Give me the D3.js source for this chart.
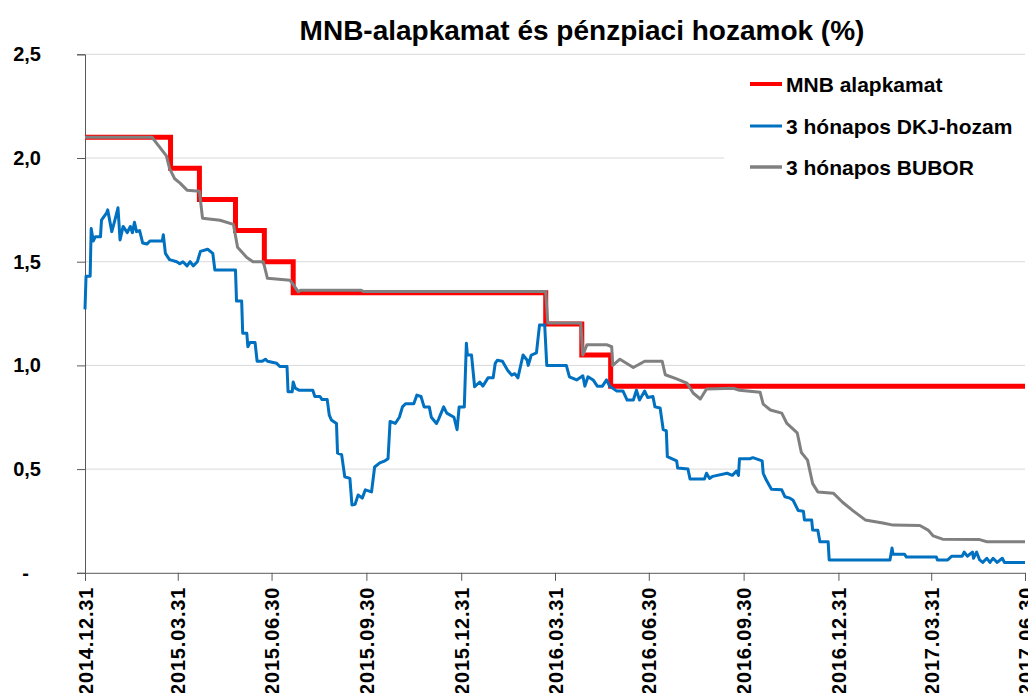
<!DOCTYPE html>
<html>
<head>
<meta charset="utf-8">
<script src="https://cdn.jsdelivr.net/npm/d3@7"></script>
<style>
  body { margin: 0; background: #fff; }
  svg { font-family: "Liberation Sans", Arial, sans-serif; font-weight: bold; }
</style>
</head>
<body>
<svg id="chart" width="1028" height="693"></svg>
<script>
// MNB alapkamat (step, effective from date)
var mnbRate = [
  ["2014-12-31", 2.10], ["2015-03-24", 1.95], ["2015-04-21", 1.80], ["2015-05-26", 1.65],
  ["2015-06-23", 1.50], ["2015-07-21", 1.35], ["2016-03-22", 1.20], ["2016-04-26", 1.05],
  ["2016-05-24", 0.90], ["2017-06-30", 0.90]
];

// 3 hónapos DKJ-hozam
var dkjYield = [
  ["2014-12-31", 1.27], ["2015-01-01", 1.43], ["2015-01-05", 1.43], ["2015-01-06", 1.66],
  ["2015-01-08", 1.60], ["2015-01-10", 1.62], ["2015-01-15", 1.62], ["2015-01-16", 1.70],
  ["2015-01-21", 1.735], ["2015-01-22", 1.75], ["2015-01-26", 1.645], ["2015-01-29", 1.70],
  ["2015-02-01", 1.76], ["2015-02-03", 1.605], ["2015-02-06", 1.67], ["2015-02-10", 1.64],
  ["2015-02-13", 1.67], ["2015-02-15", 1.64], ["2015-02-17", 1.69], ["2015-02-19", 1.645],
  ["2015-02-22", 1.65], ["2015-02-25", 1.59], ["2015-03-01", 1.585], ["2015-03-04", 1.60],
  ["2015-03-16", 1.60], ["2015-03-17", 1.63], ["2015-03-19", 1.54], ["2015-03-23", 1.51],
  ["2015-03-30", 1.50], ["2015-04-02", 1.49], ["2015-04-05", 1.50], ["2015-04-09", 1.48],
  ["2015-04-12", 1.50], ["2015-04-15", 1.48], ["2015-04-19", 1.50], ["2015-04-22", 1.55],
  ["2015-04-29", 1.56], ["2015-05-04", 1.54], ["2015-05-06", 1.46], ["2015-05-26", 1.46],
  ["2015-05-27", 1.31], ["2015-06-01", 1.31], ["2015-06-02", 1.155], ["2015-06-06", 1.155],
  ["2015-06-07", 1.09], ["2015-06-09", 1.11], ["2015-06-14", 1.11], ["2015-06-16", 1.02],
  ["2015-06-21", 1.02], ["2015-06-24", 1.03], ["2015-06-26", 1.02], ["2015-07-05", 1.01],
  ["2015-07-08", 0.995], ["2015-07-15", 0.995], ["2015-07-16", 0.873], ["2015-07-20", 0.873],
  ["2015-07-21", 0.92], ["2015-07-23", 0.89], ["2015-07-27", 0.88], ["2015-08-09", 0.88],
  ["2015-08-11", 0.85], ["2015-08-16", 0.85], ["2015-08-18", 0.835], ["2015-08-23", 0.835],
  ["2015-08-25", 0.76], ["2015-08-27", 0.737], ["2015-09-01", 0.72], ["2015-09-02", 0.577],
  ["2015-09-06", 0.57], ["2015-09-09", 0.463], ["2015-09-14", 0.455], ["2015-09-16", 0.327],
  ["2015-09-19", 0.33], ["2015-09-22", 0.375], ["2015-09-26", 0.36], ["2015-09-29", 0.40],
  ["2015-10-05", 0.39], ["2015-10-08", 0.51], ["2015-10-13", 0.53], ["2015-10-18", 0.54],
  ["2015-10-21", 0.55], ["2015-10-23", 0.73], ["2015-10-28", 0.72], ["2015-11-01", 0.75],
  ["2015-11-04", 0.80], ["2015-11-07", 0.815], ["2015-11-15", 0.815], ["2015-11-18", 0.857],
  ["2015-11-22", 0.85], ["2015-11-25", 0.80], ["2015-11-30", 0.80], ["2015-12-02", 0.75],
  ["2015-12-07", 0.72], ["2015-12-09", 0.74], ["2015-12-14", 0.80], ["2015-12-17", 0.77],
  ["2015-12-24", 0.75], ["2015-12-27", 0.69], ["2015-12-29", 0.80], ["2016-01-03", 0.80],
  ["2016-01-05", 1.107], ["2016-01-06", 1.05], ["2016-01-10", 1.05], ["2016-01-13", 0.897],
  ["2016-01-18", 0.92], ["2016-01-21", 0.90], ["2016-01-26", 0.94], ["2016-01-31", 0.94],
  ["2016-02-02", 1.01], ["2016-02-04", 1.025], ["2016-02-09", 1.02], ["2016-02-14", 0.977],
  ["2016-02-18", 0.953], ["2016-02-21", 0.96], ["2016-02-24", 0.94], ["2016-02-29", 1.05],
  ["2016-03-04", 1.025], ["2016-03-05", 1.00], ["2016-03-08", 1.05], ["2016-03-13", 1.06],
  ["2016-03-16", 1.195], ["2016-03-21", 1.195], ["2016-03-23", 1.00], ["2016-04-11", 1.00],
  ["2016-04-14", 0.945], ["2016-04-21", 0.93], ["2016-04-27", 0.95], ["2016-04-29", 0.90],
  ["2016-05-02", 0.945], ["2016-05-07", 0.93], ["2016-05-11", 0.90], ["2016-05-16", 0.90],
  ["2016-05-20", 0.93], ["2016-05-23", 0.90], ["2016-05-30", 0.876], ["2016-06-05", 0.876],
  ["2016-06-09", 0.833], ["2016-06-15", 0.833], ["2016-06-18", 0.88], ["2016-06-21", 0.833],
  ["2016-06-26", 0.876], ["2016-06-29", 0.845], ["2016-07-04", 0.85], ["2016-07-06", 0.80],
  ["2016-07-11", 0.795], ["2016-07-14", 0.69], ["2016-07-17", 0.685], ["2016-07-18", 0.56],
  ["2016-07-27", 0.54], ["2016-07-28", 0.505], ["2016-08-07", 0.50], ["2016-08-09", 0.452],
  ["2016-08-23", 0.452], ["2016-08-25", 0.48], ["2016-08-28", 0.455], ["2016-08-31", 0.465],
  ["2016-09-14", 0.48], ["2016-09-19", 0.47], ["2016-09-23", 0.49], ["2016-09-25", 0.47],
  ["2016-09-26", 0.55], ["2016-10-06", 0.55], ["2016-10-09", 0.555], ["2016-10-18", 0.54],
  ["2016-10-19", 0.48], ["2016-10-22", 0.447], ["2016-10-27", 0.403], ["2016-11-06", 0.40],
  ["2016-11-09", 0.367], ["2016-11-14", 0.36], ["2016-11-17", 0.35], ["2016-11-22", 0.30],
  ["2016-11-27", 0.297], ["2016-11-28", 0.255], ["2016-12-05", 0.255], ["2016-12-06", 0.206],
  ["2016-12-11", 0.205], ["2016-12-13", 0.15], ["2016-12-21", 0.15], ["2016-12-22", 0.062],
  ["2017-02-19", 0.062], ["2017-02-21", 0.12], ["2017-02-22", 0.09], ["2017-03-05", 0.09],
  ["2017-03-07", 0.076], ["2017-04-05", 0.076], ["2017-04-06", 0.062], ["2017-04-16", 0.062],
  ["2017-04-20", 0.08], ["2017-04-30", 0.08], ["2017-05-02", 0.10], ["2017-05-05", 0.08],
  ["2017-05-10", 0.10], ["2017-05-11", 0.07], ["2017-05-14", 0.10], ["2017-05-17", 0.062],
  ["2017-05-20", 0.05], ["2017-05-24", 0.07], ["2017-05-27", 0.05], ["2017-05-30", 0.07],
  ["2017-06-03", 0.05], ["2017-06-08", 0.07], ["2017-06-10", 0.05], ["2017-06-30", 0.05]
];

// 3 hónapos BUBOR
var bubor = [
  ["2014-12-31", 2.10], ["2015-03-06", 2.10], ["2015-03-20", 2.01], ["2015-03-23", 1.95],
  ["2015-03-28", 1.90], ["2015-04-02", 1.88], ["2015-04-09", 1.845], ["2015-04-21", 1.84],
  ["2015-04-24", 1.71], ["2015-05-11", 1.70], ["2015-05-24", 1.68], ["2015-05-28", 1.57],
  ["2015-06-06", 1.52], ["2015-06-12", 1.50], ["2015-06-22", 1.50], ["2015-06-26", 1.42],
  ["2015-07-18", 1.41], ["2015-07-21", 1.39], ["2015-07-26", 1.355], ["2015-07-28", 1.362],
  ["2015-09-25", 1.362], ["2015-09-27", 1.356], ["2016-03-22", 1.356], ["2016-03-24", 1.205],
  ["2016-04-25", 1.205], ["2016-04-27", 1.05], ["2016-05-01", 1.10], ["2016-05-20", 1.10],
  ["2016-05-25", 1.09], ["2016-05-26", 1.00], ["2016-06-02", 1.03], ["2016-06-15", 0.99],
  ["2016-06-26", 1.02], ["2016-07-13", 1.02], ["2016-07-16", 0.955], ["2016-07-27", 0.935],
  ["2016-08-06", 0.915], ["2016-08-12", 0.867], ["2016-08-19", 0.838], ["2016-08-25", 0.886],
  ["2016-09-20", 0.89], ["2016-09-26", 0.88], ["2016-10-16", 0.87], ["2016-10-19", 0.813],
  ["2016-10-26", 0.785], ["2016-11-06", 0.77], ["2016-11-11", 0.72], ["2016-11-21", 0.675],
  ["2016-11-25", 0.58], ["2016-12-01", 0.543], ["2016-12-06", 0.43], ["2016-12-11", 0.39],
  ["2016-12-26", 0.384], ["2017-01-04", 0.34], ["2017-01-14", 0.30], ["2017-01-26", 0.255],
  ["2017-02-12", 0.24], ["2017-02-22", 0.23], ["2017-03-20", 0.228], ["2017-03-28", 0.206],
  ["2017-04-02", 0.178], ["2017-04-11", 0.162], ["2017-05-17", 0.16], ["2017-05-24", 0.15],
  ["2017-06-30", 0.15]
];

var xTickDates = ["2014-12-31", "2015-03-31", "2015-06-30", "2015-09-30", "2015-12-31", "2016-03-31",
                  "2016-06-30", "2016-09-30", "2016-12-31", "2017-03-31", "2017-06-30"];
var yTicks = [0, 0.5, 1.0, 1.5, 2.0, 2.5];

var seriesNames = ["MNB alapkamat", "3 hónapos DKJ-hozam", "3 hónapos BUBOR"];
var seriesColors = ["#ff0000", "#0070c0", "#808080"];

var parse = d3.timeParse("%Y-%m-%d");
var fmtDate = d3.timeFormat("%Y.%m.%d");

var svg = d3.select("#chart");
var plotLeft = 85, plotRight = 1025, plotTop = 54.3, plotBottom = 572.8;

var x = d3.scaleTime()
  .domain([parse("2014-12-31"), parse("2017-06-30")])
  .range([plotLeft, plotRight]);
var y = d3.scaleLinear()
  .domain([0, 2.5])
  .range([plotBottom, plotTop]);

// gridlines
svg.append("g").selectAll("line")
  .data(yTicks.filter(function(d){ return d > 0; }))
  .enter().append("line")
  .attr("x1", plotLeft).attr("x2", plotRight)
  .attr("y1", function(d){ return y(d); })
  .attr("y2", function(d){ return y(d); })
  .style("stroke", "#d9d9d9").style("stroke-width", 1);

// legend background hides part of the grid
svg.append("rect")
  .attr("x", 724).attr("y", 60).attr("width", 304).attr("height", 135)
  .style("fill", "#fff");

// y axis
var yAxis = svg.append("g")
  .attr("transform", "translate(" + plotLeft + ",0)")
  .call(d3.axisLeft(y).tickValues(yTicks).tickSize(8).tickPadding(36)
    .tickFormat(function(d){ return d === 0 ? "-" : d3.format(".1f")(d).replace(".", ","); }));
yAxis.selectAll("path, line").style("stroke", "#595959");
yAxis.selectAll("text")
  .style("font-size", "20px").style("font-weight", "bold").style("fill", "#000")
  .style("font-family", "'Liberation Sans', Arial, sans-serif")
  .attr("x", function(d){ return d === 0 ? -56 : -44; });

// x axis
var xAxis = svg.append("g")
  .attr("transform", "translate(0," + plotBottom + ")")
  .call(d3.axisBottom(x).tickValues(xTickDates.map(parse)).tickSize(8).tickFormat(fmtDate));
xAxis.selectAll("path, line").style("stroke", "#595959");
xAxis.selectAll("text")
  .style("font-size", "20px").style("font-weight", "bold").style("fill", "#000")
  .style("font-family", "'Liberation Sans', Arial, sans-serif")
  .style("letter-spacing", "0.8px")
  .attr("text-anchor", "end")
  .attr("transform", "rotate(-90)")
  .attr("x", -14).attr("y", 0).attr("dy", "0.36em");

// lines
var line = d3.line()
  .x(function(d){ return x(parse(d[0])); })
  .y(function(d){ return y(d[1]); });

svg.append("path").datum(mnbRate)
  .attr("d", line.curve(d3.curveStepAfter))
  .style("fill", "none").style("stroke", seriesColors[0]).style("stroke-width", 5);

line.curve(d3.curveLinear);
svg.append("path").datum(dkjYield)
  .attr("d", line)
  .style("fill", "none").style("stroke", seriesColors[1]).style("stroke-width", 3)
  .style("stroke-linejoin", "round");

svg.append("path").datum(bubor)
  .attr("d", line)
  .style("fill", "none").style("stroke", seriesColors[2]).style("stroke-width", 3)
  .style("stroke-linejoin", "round");

// title
svg.append("text")
  .attr("x", 582).attr("y", 40)
  .attr("text-anchor", "middle")
  .style("font-size", "28px")
  .text("MNB-alapkamat és pénzpiaci hozamok (%)");

// legend
var legendY = [84, 126, 167];
var legendW = [4, 3, 3.5];
var lg = svg.append("g").selectAll("g")
  .data(seriesNames)
  .enter().append("g")
  .attr("transform", function(d, i){ return "translate(750," + legendY[i] + ")"; });
lg.append("line")
  .attr("x1", 0).attr("x2", 32)
  .style("stroke", function(d, i){ return seriesColors[i]; })
  .style("stroke-width", function(d, i){ return legendW[i]; });
lg.append("text")
  .attr("x", 36).attr("dy", "0.36em")
  .style("font-size", "21px")
  .text(function(d){ return d; });
</script>
</body>
</html>
